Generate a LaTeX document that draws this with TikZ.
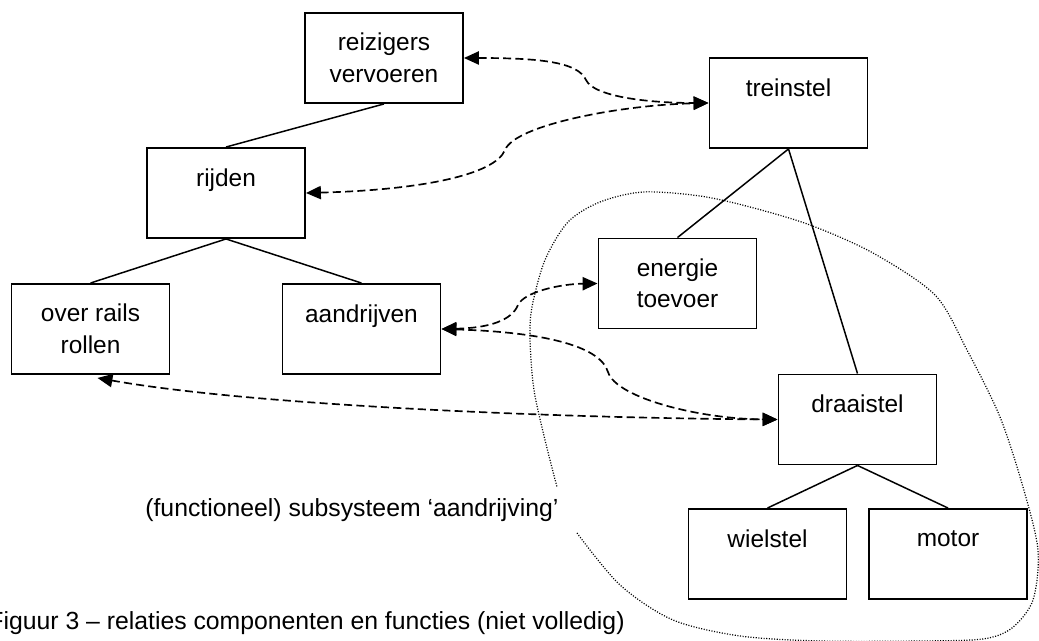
\documentclass[tikz,border=0pt]{standalone}
\usepackage{fontspec}
\setmainfont{Liberation Sans}
\usetikzlibrary{arrows.meta,calc}

\begin{document}
\begin{tikzpicture}[x=0.02cm,y=-0.02cm,
        block/.style = {draw,
            rectangle,
            line width=1.1pt,
            minimum width=3.16cm,
            minimum height=1.8cm,
            inner sep=0pt,
            align=center,
            execute at begin node=\rule{0pt}{11pt},
            font=\fontsize{13.9}{17.9}\selectfont},
        tree/.style = {line width=0.85pt},
        relation/.style = {<->,
            >={Triangle[length=8.5pt,width=7.5pt]},
            line width=0.95pt,
            dash pattern=on 4.6pt off 2.4pt},
        boundary/.style = {line width=0.7pt,
            dash pattern=on 0.6pt off 0.9pt},
        caption/.style = {inner sep=0pt,
            font=\fontsize{14.1}{16}\selectfont}]

    \useasboundingbox (0,0) rectangle (1039,641);

    % Functions
    \node[block] (reizigers) at (384,58) {reizigers\\vervoeren};
    \node[block] (rijden) at (226,193) {rijden\\\phantom{x}};
    \node[block] (rails) at (90.5,329) {over rails\\rollen};
    \node[block] (aandrijven) at (361.5,329) {aandrijven\\\phantom{x}};

    % Components
    \node[block] (treinstel) at (788.5,103) {treinstel\\\phantom{x}};
    \node[block] (energie) at (677.5,283.5) {energie\\toevoer};
    \node[block] (draaistel) at (857.5,419.5) {draaistel\\\phantom{x}};
    \node[block] (wielstel) at (767.5,554) {wielstel\\\phantom{x}};
    \node[block] (motor) at (948,554) {motor\\\phantom{x}};

    % Decomposition
    \draw[tree] (reizigers.south) -- (rijden.north);
    \draw[tree] (rijden.south) -- (rails.north);
    \draw[tree] (rijden.south) -- (aandrijven.north);
    \draw[tree] (treinstel.south) -- (energie.north);
    \draw[tree] (treinstel.south) -- (draaistel.north);
    \draw[tree] (draaistel.south) -- (wielstel.north);
    \draw[tree] (draaistel.south) -- (motor.north);

    % Relations between functions and components
    \draw[relation] (reizigers.east) .. controls (540,58) and (578,62) .. (586,80)
        .. controls (594,97) and (650,103) .. (treinstel.west);
    \draw[relation] (rijden.east) .. controls (420,190) and (495,175) .. (505,150)
        .. controls (515,125) and (620,105) .. (treinstel.west);
    \draw[relation] (aandrijven.east) .. controls (490,328) and (512,320) .. (518,305)
        .. controls (524,292) and (560,284) .. (energie.west);
    \draw[relation] (aandrijven.east) .. controls (540,332) and (600,345) .. (608,372)
        .. controls (616,398) and (700,419) .. (draaistel.west);
    \draw[relation] ($(rails.south)+(7,3)$) .. controls (250,405) and (550,418) .. (draaistel.west);

    % Subsystem boundary
    \draw[boundary] plot[smooth] coordinates {(577,533) (620,585) (673,620) (740,636)
        (820,641) (920,641) (983,639) (1012,628) (1033,600) (1038,550) (1023,487)
        (1000,417) (967,350) (935,295) (873,253) (810,225) (750,207) (700,196)
        (643,192) (600,202) (568,222) (545,260) (532,307) (530,340) (534,390)
        (545,440) (557,487)};

    % Texts
    \node[caption, anchor=base west] (subsysteem) at (145,517)
        {(functioneel) subsysteem ‘aandrijving’};
    \node[caption, anchor=base east] (figuur) at (625,630)
        {Figuur 3 – relaties componenten en functies (niet volledig)};

\end{tikzpicture}
\end{document}
